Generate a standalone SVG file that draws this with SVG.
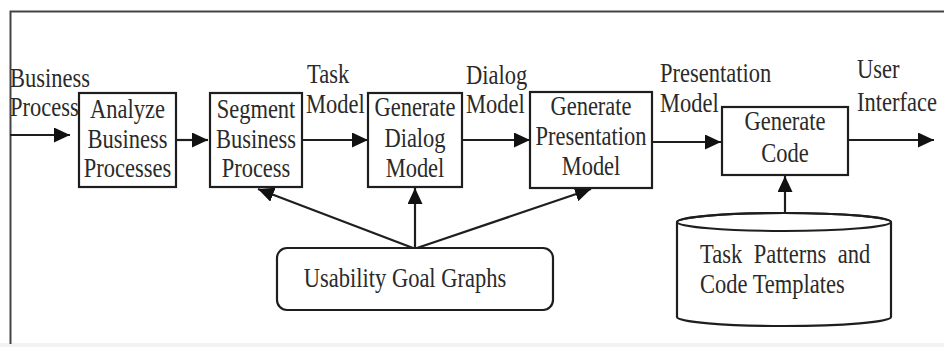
<svg xmlns="http://www.w3.org/2000/svg" width="944" height="347" viewBox="0 0 944 347">
<defs>
<style>
text{font-family:"Liberation Serif","Times New Roman",serif;font-size:22.5px;fill:#2a2a2a}
.c{text-anchor:middle}
.box{fill:#fff;stroke:#1e1e1e;stroke-width:2.2}
.ln{fill:none;stroke:#1e1e1e;stroke-width:2.2}
</style>
<marker id="ah" markerUnits="userSpaceOnUse" markerWidth="17" markerHeight="15" refX="16" refY="7.5" orient="auto">
<path d="M0,0 L16,7.5 L0,15 z" fill="#111"/>
</marker>
</defs>
<rect x="0" y="0" width="944" height="347" fill="#fff"/>
<rect x="0" y="343" width="944" height="4" fill="#f3f3f3"/>
<path d="M10.5,344 V11.5 H944" fill="none" stroke="#444" stroke-width="2"/>

<g id="label-business-process"><text transform="translate(10 87) scale(1 1.2)">Business</text><text transform="translate(10 116) scale(1 1.2)">Process</text></g>
<g id="label-task-model"><text transform="translate(307 83) scale(1 1.2)">Task</text><text transform="translate(306 113) scale(1 1.2)">Model</text></g>
<g id="label-dialog-model"><text transform="translate(466 84) scale(1 1.2)">Dialog</text><text transform="translate(466 113) scale(1 1.2)">Model</text></g>
<g id="label-presentation-model"><text transform="translate(660 82) scale(1 1.2)">Presentation</text><text transform="translate(660 112) scale(1 1.2)">Model</text></g>
<g id="label-user-interface"><text transform="translate(857 78) scale(1 1.2)">User</text><text transform="translate(857 111) scale(1 1.2)">Interface</text></g>

<g id="connectors">
<path class="ln" d="M10,135 H70" marker-end="url(#ah)"/>
<path class="ln" d="M176,140 H208" marker-end="url(#ah)"/>
<path class="ln" d="M302,140 H368" marker-end="url(#ah)"/>
<path class="ln" d="M462,140 H530" marker-end="url(#ah)"/>
<path class="ln" d="M652,142 H721" marker-end="url(#ah)"/>
<path class="ln" d="M848,140 H934" marker-end="url(#ah)"/>
<path class="ln" d="M785,213 V176" marker-end="url(#ah)"/>
<path class="ln" d="M413,248 L258,189" marker-end="url(#ah)"/>
<path class="ln" d="M415,248 V188" marker-end="url(#ah)"/>
<path class="ln" d="M417,248 L591,189" marker-end="url(#ah)"/>
</g>

<g id="analyze">
<rect class="box" x="79" y="93" width="97" height="94"/>
<text class="c" transform="translate(127.5 118) scale(1 1.2)">Analyze</text><text class="c" transform="translate(127.5 148) scale(1 1.2)">Business</text><text class="c" transform="translate(127.5 177) scale(1 1.2)">Processes</text>
</g>
<g id="segment">
<rect class="box" x="210" y="93" width="92" height="94"/>
<text class="c" transform="translate(256 118) scale(1 1.2)">Segment</text><text class="c" transform="translate(256 148) scale(1 1.2)">Business</text><text class="c" transform="translate(256 177) scale(1 1.2)">Process</text>
</g>
<g id="dialog">
<rect class="box" x="368" y="93" width="94" height="94"/>
<text class="c" transform="translate(415 116) scale(1 1.2)">Generate</text><text class="c" transform="translate(415 147) scale(1 1.2)">Dialog</text><text class="c" transform="translate(415 177) scale(1 1.2)">Model</text>
</g>
<g id="presentation">
<rect class="box" x="530" y="92" width="122" height="96"/>
<text class="c" transform="translate(591 115) scale(1 1.2)">Generate</text><text class="c" transform="translate(591 145) scale(1 1.2)">Presentation</text><text class="c" transform="translate(591 175) scale(1 1.2)">Model</text>
</g>
<g id="code">
<rect class="box" x="722" y="107" width="126" height="68"/>
<text class="c" transform="translate(785 130) scale(1 1.2)">Generate</text><text class="c" transform="translate(785 162) scale(1 1.2)">Code</text>
</g>
<g id="usability">
<rect class="box" x="277" y="248" width="276" height="62" rx="10"/>
<text class="c" transform="translate(405 287) scale(1 1.2)">Usability Goal Graphs</text>
</g>
<g id="patterns">
<path class="box" d="M677,222 V317 A107,9 0 0 0 891,317 V222 A107,9 0 0 0 677,222 Z"/>
<ellipse cx="784" cy="222" rx="107" ry="9" fill="none" stroke="#1e1e1e" stroke-width="2"/>
<text transform="translate(700 263) scale(1 1.2)" word-spacing="6">Task Patterns and</text>
<text transform="translate(700 293) scale(1 1.2)">Code Templates</text>
</g>
</svg>
